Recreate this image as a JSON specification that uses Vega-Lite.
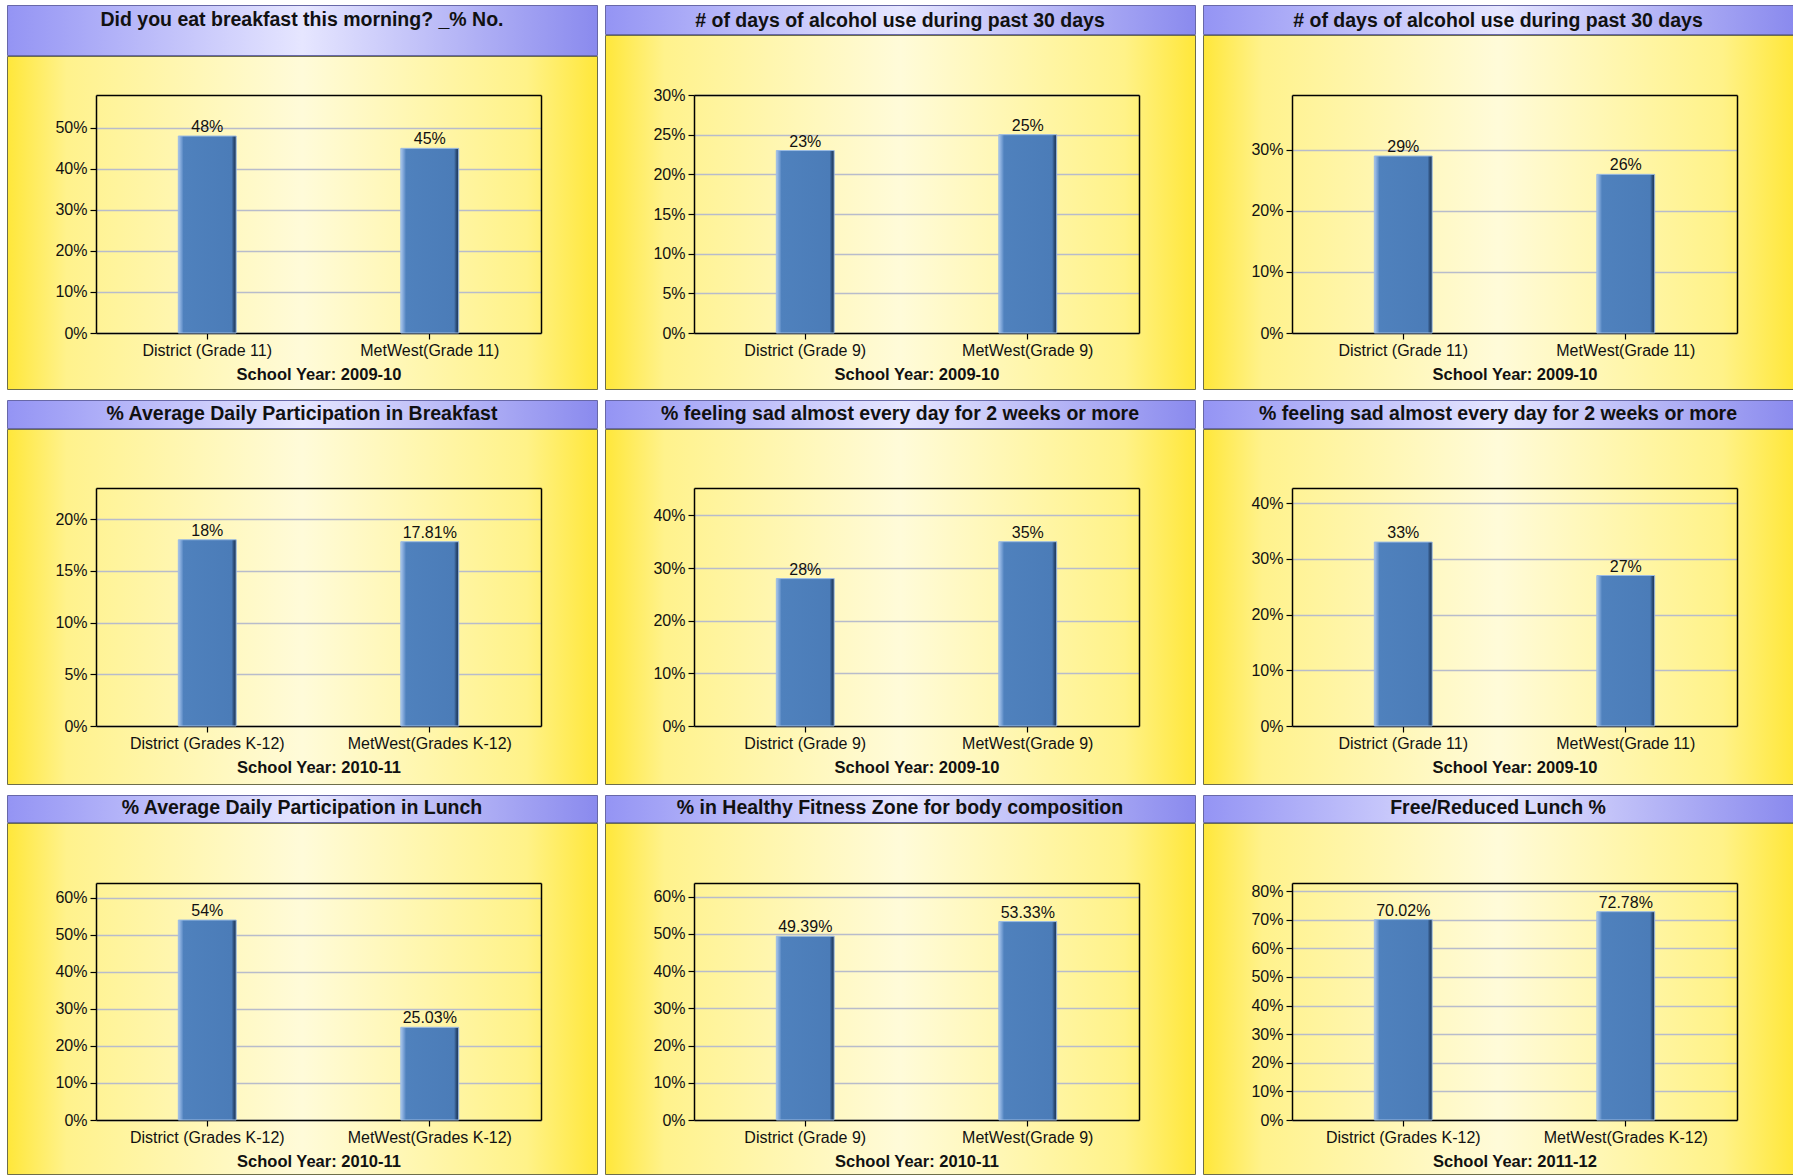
{
  "$schema": "https://vega.github.io/schema/vega-lite/v6.json",
  "background": "white",
  "padding": {"left": 6, "top": 4, "right": 0, "bottom": 0},
  "columns": 3,
  "spacing": {"row": 9, "column": 6},
  "concat": [
    {"spacing": -2, "vconcat": [
      {"width": 590, "height": 50, "view": {"fill": {"gradient": "linear", "x1": 0, "y1": 0, "x2": 1, "y2": 0, "stops": [{"offset": 0, "color": "#9494f4"}, {"offset": 0.5, "color": "#e6e6ff"}, {"offset": 1, "color": "#8a8aee"}]}, "stroke": "#6868a8", "strokeWidth": 1},
       "data": {"values": [{"title": "Did you eat breakfast this morning? _% No."}]},
       "mark": {"type": "text", "font": "Liberation Sans", "fontWeight": "bold", "fontSize": 19.5, "color": "#111", "dy": -10},
       "encoding": {"text": {"field": "title", "type": "nominal"}}},
      {"width": 590, "height": 333, "view": {"fill": {"gradient": "linear", "x1": 0, "y1": 0, "x2": 1, "y2": 0, "stops": [{"offset": 0, "color": "#ffe73a"}, {"offset": 0.1, "color": "#fff28c"}, {"offset": 0.5, "color": "#fffbd9"}, {"offset": 0.88, "color": "#fff288"}, {"offset": 1, "color": "#ffe73a"}]}, "stroke": "#6e6e4a", "strokeWidth": 1},
       "data": {"values": [{"group": "District (Grade 11)", "value": 0.48}, {"group": "MetWest(Grade 11)", "value": 0.45}]},
       "layer": [
        {"mark": {"type": "bar", "fill": {"gradient": "linear", "x1": 0, "y1": 0, "x2": 1, "y2": 0, "stops": [{"offset": 0, "color": "#a9c6ec"}, {"offset": 0.06, "color": "#6f9ad0"}, {"offset": 0.09, "color": "#4f81bd"}, {"offset": 0.92, "color": "#4b7cb8"}, {"offset": 0.96, "color": "#2c4d78"}, {"offset": 1, "color": "#1c3556"}]}, "stroke": "#9bbbe3", "strokeWidth": 1},
         "encoding": {
          "x": {"field": "group", "type": "nominal", "sort": null, "scale": {"type": "band", "range": [89, 534], "paddingInner": 0.74, "paddingOuter": 0.37}, "axis": {"orient": "bottom", "offset": -56, "labelAngle": 0, "title": "School Year: 2009-10"}},
          "y": {"field": "value", "type": "quantitative", "scale": {"domain": [0, 0.58], "range": [277, 39], "nice": false, "zero": true}, "axis": {"orient": "left", "offset": -89, "values": [0, 0.1, 0.2, 0.3, 0.4, 0.5], "format": ".0%", "grid": true, "title": null}}}},
        {"mark": {"type": "text", "baseline": "alphabetic", "dy": -4},
         "encoding": {
          "text": {"field": "value", "format": ".2~%"},
          "x": {"field": "group", "type": "nominal", "sort": null, "scale": {"type": "band", "range": [89, 534], "paddingInner": 0.74, "paddingOuter": 0.37}, "axis": {"orient": "top", "offset": -39, "labels": false, "ticks": false, "grid": false, "title": null}},
          "y": {"field": "value", "type": "quantitative", "scale": {"domain": [0, 0.58], "range": [277, 39], "nice": false, "zero": true}, "axis": {"orient": "right", "offset": -56, "labels": false, "ticks": false, "grid": false, "title": null}}}}
       ],
       "resolve": {"axis": {"x": "independent", "y": "independent"}}}
    ]},
    {"spacing": -2, "vconcat": [
      {"width": 590, "height": 29, "view": {"fill": {"gradient": "linear", "x1": 0, "y1": 0, "x2": 1, "y2": 0, "stops": [{"offset": 0, "color": "#9494f4"}, {"offset": 0.5, "color": "#e6e6ff"}, {"offset": 1, "color": "#8a8aee"}]}, "stroke": "#6868a8", "strokeWidth": 1},
       "data": {"values": [{"title": "# of days of alcohol use during past 30 days"}]},
       "mark": {"type": "text", "font": "Liberation Sans", "fontWeight": "bold", "fontSize": 19.5, "color": "#111", "dy": 1},
       "encoding": {"text": {"field": "title", "type": "nominal"}}},
      {"width": 590, "height": 354, "view": {"fill": {"gradient": "linear", "x1": 0, "y1": 0, "x2": 1, "y2": 0, "stops": [{"offset": 0, "color": "#ffe73a"}, {"offset": 0.1, "color": "#fff28c"}, {"offset": 0.5, "color": "#fffbd9"}, {"offset": 0.88, "color": "#fff288"}, {"offset": 1, "color": "#ffe73a"}]}, "stroke": "#6e6e4a", "strokeWidth": 1},
       "data": {"values": [{"group": "District (Grade 9)", "value": 0.23}, {"group": "MetWest(Grade 9)", "value": 0.25}]},
       "layer": [
        {"mark": {"type": "bar", "fill": {"gradient": "linear", "x1": 0, "y1": 0, "x2": 1, "y2": 0, "stops": [{"offset": 0, "color": "#a9c6ec"}, {"offset": 0.06, "color": "#6f9ad0"}, {"offset": 0.09, "color": "#4f81bd"}, {"offset": 0.92, "color": "#4b7cb8"}, {"offset": 0.96, "color": "#2c4d78"}, {"offset": 1, "color": "#1c3556"}]}, "stroke": "#9bbbe3", "strokeWidth": 1},
         "encoding": {
          "x": {"field": "group", "type": "nominal", "sort": null, "scale": {"type": "band", "range": [89, 534], "paddingInner": 0.74, "paddingOuter": 0.37}, "axis": {"orient": "bottom", "offset": -56, "labelAngle": 0, "title": "School Year: 2009-10"}},
          "y": {"field": "value", "type": "quantitative", "scale": {"domain": [0, 0.30], "range": [298, 60], "nice": false, "zero": true}, "axis": {"orient": "left", "offset": -89, "values": [0, 0.05, 0.1, 0.15, 0.2, 0.25, 0.3], "format": ".0%", "grid": true, "title": null}}}},
        {"mark": {"type": "text", "baseline": "alphabetic", "dy": -4},
         "encoding": {
          "text": {"field": "value", "format": ".2~%"},
          "x": {"field": "group", "type": "nominal", "sort": null, "scale": {"type": "band", "range": [89, 534], "paddingInner": 0.74, "paddingOuter": 0.37}, "axis": {"orient": "top", "offset": -60, "labels": false, "ticks": false, "grid": false, "title": null}},
          "y": {"field": "value", "type": "quantitative", "scale": {"domain": [0, 0.30], "range": [298, 60], "nice": false, "zero": true}, "axis": {"orient": "right", "offset": -56, "labels": false, "ticks": false, "grid": false, "title": null}}}}
       ],
       "resolve": {"axis": {"x": "independent", "y": "independent"}}}
    ]},
    {"spacing": -2, "vconcat": [
      {"width": 590, "height": 29, "view": {"fill": {"gradient": "linear", "x1": 0, "y1": 0, "x2": 1, "y2": 0, "stops": [{"offset": 0, "color": "#9494f4"}, {"offset": 0.5, "color": "#e6e6ff"}, {"offset": 1, "color": "#8a8aee"}]}, "stroke": "#6868a8", "strokeWidth": 1},
       "data": {"values": [{"title": "# of days of alcohol use during past 30 days"}]},
       "mark": {"type": "text", "font": "Liberation Sans", "fontWeight": "bold", "fontSize": 19.5, "color": "#111", "dy": 1},
       "encoding": {"text": {"field": "title", "type": "nominal"}}},
      {"width": 590, "height": 354, "view": {"fill": {"gradient": "linear", "x1": 0, "y1": 0, "x2": 1, "y2": 0, "stops": [{"offset": 0, "color": "#ffe73a"}, {"offset": 0.1, "color": "#fff28c"}, {"offset": 0.5, "color": "#fffbd9"}, {"offset": 0.88, "color": "#fff288"}, {"offset": 1, "color": "#ffe73a"}]}, "stroke": "#6e6e4a", "strokeWidth": 1},
       "data": {"values": [{"group": "District (Grade 11)", "value": 0.29}, {"group": "MetWest(Grade 11)", "value": 0.26}]},
       "layer": [
        {"mark": {"type": "bar", "fill": {"gradient": "linear", "x1": 0, "y1": 0, "x2": 1, "y2": 0, "stops": [{"offset": 0, "color": "#a9c6ec"}, {"offset": 0.06, "color": "#6f9ad0"}, {"offset": 0.09, "color": "#4f81bd"}, {"offset": 0.92, "color": "#4b7cb8"}, {"offset": 0.96, "color": "#2c4d78"}, {"offset": 1, "color": "#1c3556"}]}, "stroke": "#9bbbe3", "strokeWidth": 1},
         "encoding": {
          "x": {"field": "group", "type": "nominal", "sort": null, "scale": {"type": "band", "range": [89, 534], "paddingInner": 0.74, "paddingOuter": 0.37}, "axis": {"orient": "bottom", "offset": -56, "labelAngle": 0, "title": "School Year: 2009-10"}},
          "y": {"field": "value", "type": "quantitative", "scale": {"domain": [0, 0.39], "range": [298, 60], "nice": false, "zero": true}, "axis": {"orient": "left", "offset": -89, "values": [0, 0.1, 0.2, 0.3], "format": ".0%", "grid": true, "title": null}}}},
        {"mark": {"type": "text", "baseline": "alphabetic", "dy": -4},
         "encoding": {
          "text": {"field": "value", "format": ".2~%"},
          "x": {"field": "group", "type": "nominal", "sort": null, "scale": {"type": "band", "range": [89, 534], "paddingInner": 0.74, "paddingOuter": 0.37}, "axis": {"orient": "top", "offset": -60, "labels": false, "ticks": false, "grid": false, "title": null}},
          "y": {"field": "value", "type": "quantitative", "scale": {"domain": [0, 0.39], "range": [298, 60], "nice": false, "zero": true}, "axis": {"orient": "right", "offset": -56, "labels": false, "ticks": false, "grid": false, "title": null}}}}
       ],
       "resolve": {"axis": {"x": "independent", "y": "independent"}}}
    ]},
    {"spacing": -2, "vconcat": [
      {"width": 590, "height": 28, "view": {"fill": {"gradient": "linear", "x1": 0, "y1": 0, "x2": 1, "y2": 0, "stops": [{"offset": 0, "color": "#9494f4"}, {"offset": 0.5, "color": "#e6e6ff"}, {"offset": 1, "color": "#8a8aee"}]}, "stroke": "#6868a8", "strokeWidth": 1},
       "data": {"values": [{"title": "% Average Daily Participation in Breakfast"}]},
       "mark": {"type": "text", "font": "Liberation Sans", "fontWeight": "bold", "fontSize": 19.5, "color": "#111", "dy": 0},
       "encoding": {"text": {"field": "title", "type": "nominal"}}},
      {"width": 590, "height": 355, "view": {"fill": {"gradient": "linear", "x1": 0, "y1": 0, "x2": 1, "y2": 0, "stops": [{"offset": 0, "color": "#ffe73a"}, {"offset": 0.1, "color": "#fff28c"}, {"offset": 0.5, "color": "#fffbd9"}, {"offset": 0.88, "color": "#fff288"}, {"offset": 1, "color": "#ffe73a"}]}, "stroke": "#6e6e4a", "strokeWidth": 1},
       "data": {"values": [{"group": "District (Grades K-12)", "value": 0.18}, {"group": "MetWest(Grades K-12)", "value": 0.1781}]},
       "layer": [
        {"mark": {"type": "bar", "fill": {"gradient": "linear", "x1": 0, "y1": 0, "x2": 1, "y2": 0, "stops": [{"offset": 0, "color": "#a9c6ec"}, {"offset": 0.06, "color": "#6f9ad0"}, {"offset": 0.09, "color": "#4f81bd"}, {"offset": 0.92, "color": "#4b7cb8"}, {"offset": 0.96, "color": "#2c4d78"}, {"offset": 1, "color": "#1c3556"}]}, "stroke": "#9bbbe3", "strokeWidth": 1},
         "encoding": {
          "x": {"field": "group", "type": "nominal", "sort": null, "scale": {"type": "band", "range": [89, 534], "paddingInner": 0.74, "paddingOuter": 0.37}, "axis": {"orient": "bottom", "offset": -58, "labelAngle": 0, "title": "School Year: 2010-11"}},
          "y": {"field": "value", "type": "quantitative", "scale": {"domain": [0, 0.23], "range": [297, 59], "nice": false, "zero": true}, "axis": {"orient": "left", "offset": -89, "values": [0, 0.05, 0.1, 0.15, 0.2], "format": ".0%", "grid": true, "title": null}}}},
        {"mark": {"type": "text", "baseline": "alphabetic", "dy": -4},
         "encoding": {
          "text": {"field": "value", "format": ".2~%"},
          "x": {"field": "group", "type": "nominal", "sort": null, "scale": {"type": "band", "range": [89, 534], "paddingInner": 0.74, "paddingOuter": 0.37}, "axis": {"orient": "top", "offset": -59, "labels": false, "ticks": false, "grid": false, "title": null}},
          "y": {"field": "value", "type": "quantitative", "scale": {"domain": [0, 0.23], "range": [297, 59], "nice": false, "zero": true}, "axis": {"orient": "right", "offset": -56, "labels": false, "ticks": false, "grid": false, "title": null}}}}
       ],
       "resolve": {"axis": {"x": "independent", "y": "independent"}}}
    ]},
    {"spacing": -2, "vconcat": [
      {"width": 590, "height": 28, "view": {"fill": {"gradient": "linear", "x1": 0, "y1": 0, "x2": 1, "y2": 0, "stops": [{"offset": 0, "color": "#9494f4"}, {"offset": 0.5, "color": "#e6e6ff"}, {"offset": 1, "color": "#8a8aee"}]}, "stroke": "#6868a8", "strokeWidth": 1},
       "data": {"values": [{"title": "%  feeling sad almost every day for 2 weeks or more"}]},
       "mark": {"type": "text", "font": "Liberation Sans", "fontWeight": "bold", "fontSize": 19.5, "color": "#111", "dy": 0},
       "encoding": {"text": {"field": "title", "type": "nominal"}}},
      {"width": 590, "height": 355, "view": {"fill": {"gradient": "linear", "x1": 0, "y1": 0, "x2": 1, "y2": 0, "stops": [{"offset": 0, "color": "#ffe73a"}, {"offset": 0.1, "color": "#fff28c"}, {"offset": 0.5, "color": "#fffbd9"}, {"offset": 0.88, "color": "#fff288"}, {"offset": 1, "color": "#ffe73a"}]}, "stroke": "#6e6e4a", "strokeWidth": 1},
       "data": {"values": [{"group": "District (Grade 9)", "value": 0.28}, {"group": "MetWest(Grade 9)", "value": 0.35}]},
       "layer": [
        {"mark": {"type": "bar", "fill": {"gradient": "linear", "x1": 0, "y1": 0, "x2": 1, "y2": 0, "stops": [{"offset": 0, "color": "#a9c6ec"}, {"offset": 0.06, "color": "#6f9ad0"}, {"offset": 0.09, "color": "#4f81bd"}, {"offset": 0.92, "color": "#4b7cb8"}, {"offset": 0.96, "color": "#2c4d78"}, {"offset": 1, "color": "#1c3556"}]}, "stroke": "#9bbbe3", "strokeWidth": 1},
         "encoding": {
          "x": {"field": "group", "type": "nominal", "sort": null, "scale": {"type": "band", "range": [89, 534], "paddingInner": 0.74, "paddingOuter": 0.37}, "axis": {"orient": "bottom", "offset": -58, "labelAngle": 0, "title": "School Year: 2009-10"}},
          "y": {"field": "value", "type": "quantitative", "scale": {"domain": [0, 0.452], "range": [297, 59], "nice": false, "zero": true}, "axis": {"orient": "left", "offset": -89, "values": [0, 0.1, 0.2, 0.3, 0.4], "format": ".0%", "grid": true, "title": null}}}},
        {"mark": {"type": "text", "baseline": "alphabetic", "dy": -4},
         "encoding": {
          "text": {"field": "value", "format": ".2~%"},
          "x": {"field": "group", "type": "nominal", "sort": null, "scale": {"type": "band", "range": [89, 534], "paddingInner": 0.74, "paddingOuter": 0.37}, "axis": {"orient": "top", "offset": -59, "labels": false, "ticks": false, "grid": false, "title": null}},
          "y": {"field": "value", "type": "quantitative", "scale": {"domain": [0, 0.452], "range": [297, 59], "nice": false, "zero": true}, "axis": {"orient": "right", "offset": -56, "labels": false, "ticks": false, "grid": false, "title": null}}}}
       ],
       "resolve": {"axis": {"x": "independent", "y": "independent"}}}
    ]},
    {"spacing": -2, "vconcat": [
      {"width": 590, "height": 28, "view": {"fill": {"gradient": "linear", "x1": 0, "y1": 0, "x2": 1, "y2": 0, "stops": [{"offset": 0, "color": "#9494f4"}, {"offset": 0.5, "color": "#e6e6ff"}, {"offset": 1, "color": "#8a8aee"}]}, "stroke": "#6868a8", "strokeWidth": 1},
       "data": {"values": [{"title": "%  feeling sad almost every day for 2 weeks or more"}]},
       "mark": {"type": "text", "font": "Liberation Sans", "fontWeight": "bold", "fontSize": 19.5, "color": "#111", "dy": 0},
       "encoding": {"text": {"field": "title", "type": "nominal"}}},
      {"width": 590, "height": 355, "view": {"fill": {"gradient": "linear", "x1": 0, "y1": 0, "x2": 1, "y2": 0, "stops": [{"offset": 0, "color": "#ffe73a"}, {"offset": 0.1, "color": "#fff28c"}, {"offset": 0.5, "color": "#fffbd9"}, {"offset": 0.88, "color": "#fff288"}, {"offset": 1, "color": "#ffe73a"}]}, "stroke": "#6e6e4a", "strokeWidth": 1},
       "data": {"values": [{"group": "District (Grade 11)", "value": 0.33}, {"group": "MetWest(Grade 11)", "value": 0.27}]},
       "layer": [
        {"mark": {"type": "bar", "fill": {"gradient": "linear", "x1": 0, "y1": 0, "x2": 1, "y2": 0, "stops": [{"offset": 0, "color": "#a9c6ec"}, {"offset": 0.06, "color": "#6f9ad0"}, {"offset": 0.09, "color": "#4f81bd"}, {"offset": 0.92, "color": "#4b7cb8"}, {"offset": 0.96, "color": "#2c4d78"}, {"offset": 1, "color": "#1c3556"}]}, "stroke": "#9bbbe3", "strokeWidth": 1},
         "encoding": {
          "x": {"field": "group", "type": "nominal", "sort": null, "scale": {"type": "band", "range": [89, 534], "paddingInner": 0.74, "paddingOuter": 0.37}, "axis": {"orient": "bottom", "offset": -58, "labelAngle": 0, "title": "School Year: 2009-10"}},
          "y": {"field": "value", "type": "quantitative", "scale": {"domain": [0, 0.427], "range": [297, 59], "nice": false, "zero": true}, "axis": {"orient": "left", "offset": -89, "values": [0, 0.1, 0.2, 0.3, 0.4], "format": ".0%", "grid": true, "title": null}}}},
        {"mark": {"type": "text", "baseline": "alphabetic", "dy": -4},
         "encoding": {
          "text": {"field": "value", "format": ".2~%"},
          "x": {"field": "group", "type": "nominal", "sort": null, "scale": {"type": "band", "range": [89, 534], "paddingInner": 0.74, "paddingOuter": 0.37}, "axis": {"orient": "top", "offset": -59, "labels": false, "ticks": false, "grid": false, "title": null}},
          "y": {"field": "value", "type": "quantitative", "scale": {"domain": [0, 0.427], "range": [297, 59], "nice": false, "zero": true}, "axis": {"orient": "right", "offset": -56, "labels": false, "ticks": false, "grid": false, "title": null}}}}
       ],
       "resolve": {"axis": {"x": "independent", "y": "independent"}}}
    ]},
    {"spacing": -2, "vconcat": [
      {"width": 590, "height": 27, "view": {"fill": {"gradient": "linear", "x1": 0, "y1": 0, "x2": 1, "y2": 0, "stops": [{"offset": 0, "color": "#9494f4"}, {"offset": 0.5, "color": "#e6e6ff"}, {"offset": 1, "color": "#8a8aee"}]}, "stroke": "#6868a8", "strokeWidth": 1},
       "data": {"values": [{"title": "% Average Daily Participation in Lunch"}]},
       "mark": {"type": "text", "font": "Liberation Sans", "fontWeight": "bold", "fontSize": 19.5, "color": "#111", "dy": -1},
       "encoding": {"text": {"field": "title", "type": "nominal"}}},
      {"width": 590, "height": 351, "view": {"fill": {"gradient": "linear", "x1": 0, "y1": 0, "x2": 1, "y2": 0, "stops": [{"offset": 0, "color": "#ffe73a"}, {"offset": 0.1, "color": "#fff28c"}, {"offset": 0.5, "color": "#fffbd9"}, {"offset": 0.88, "color": "#fff288"}, {"offset": 1, "color": "#ffe73a"}]}, "stroke": "#6e6e4a", "strokeWidth": 1},
       "data": {"values": [{"group": "District (Grades K-12)", "value": 0.54}, {"group": "MetWest(Grades K-12)", "value": 0.2503}]},
       "layer": [
        {"mark": {"type": "bar", "fill": {"gradient": "linear", "x1": 0, "y1": 0, "x2": 1, "y2": 0, "stops": [{"offset": 0, "color": "#a9c6ec"}, {"offset": 0.06, "color": "#6f9ad0"}, {"offset": 0.09, "color": "#4f81bd"}, {"offset": 0.92, "color": "#4b7cb8"}, {"offset": 0.96, "color": "#2c4d78"}, {"offset": 1, "color": "#1c3556"}]}, "stroke": "#9bbbe3", "strokeWidth": 1},
         "encoding": {
          "x": {"field": "group", "type": "nominal", "sort": null, "scale": {"type": "band", "range": [89, 534], "paddingInner": 0.74, "paddingOuter": 0.37}, "axis": {"orient": "bottom", "offset": -54, "labelAngle": 0, "title": "School Year: 2010-11"}},
          "y": {"field": "value", "type": "quantitative", "scale": {"domain": [0, 0.64], "range": [297, 60], "nice": false, "zero": true}, "axis": {"orient": "left", "offset": -89, "values": [0, 0.1, 0.2, 0.3, 0.4, 0.5, 0.6], "format": ".0%", "grid": true, "title": null}}}},
        {"mark": {"type": "text", "baseline": "alphabetic", "dy": -4},
         "encoding": {
          "text": {"field": "value", "format": ".2~%"},
          "x": {"field": "group", "type": "nominal", "sort": null, "scale": {"type": "band", "range": [89, 534], "paddingInner": 0.74, "paddingOuter": 0.37}, "axis": {"orient": "top", "offset": -60, "labels": false, "ticks": false, "grid": false, "title": null}},
          "y": {"field": "value", "type": "quantitative", "scale": {"domain": [0, 0.64], "range": [297, 60], "nice": false, "zero": true}, "axis": {"orient": "right", "offset": -56, "labels": false, "ticks": false, "grid": false, "title": null}}}}
       ],
       "resolve": {"axis": {"x": "independent", "y": "independent"}}}
    ]},
    {"spacing": -2, "vconcat": [
      {"width": 590, "height": 27, "view": {"fill": {"gradient": "linear", "x1": 0, "y1": 0, "x2": 1, "y2": 0, "stops": [{"offset": 0, "color": "#9494f4"}, {"offset": 0.5, "color": "#e6e6ff"}, {"offset": 1, "color": "#8a8aee"}]}, "stroke": "#6868a8", "strokeWidth": 1},
       "data": {"values": [{"title": "% in Healthy Fitness Zone for body composition"}]},
       "mark": {"type": "text", "font": "Liberation Sans", "fontWeight": "bold", "fontSize": 19.5, "color": "#111", "dy": -1},
       "encoding": {"text": {"field": "title", "type": "nominal"}}},
      {"width": 590, "height": 351, "view": {"fill": {"gradient": "linear", "x1": 0, "y1": 0, "x2": 1, "y2": 0, "stops": [{"offset": 0, "color": "#ffe73a"}, {"offset": 0.1, "color": "#fff28c"}, {"offset": 0.5, "color": "#fffbd9"}, {"offset": 0.88, "color": "#fff288"}, {"offset": 1, "color": "#ffe73a"}]}, "stroke": "#6e6e4a", "strokeWidth": 1},
       "data": {"values": [{"group": "District (Grade 9)", "value": 0.4939}, {"group": "MetWest(Grade 9)", "value": 0.5333}]},
       "layer": [
        {"mark": {"type": "bar", "fill": {"gradient": "linear", "x1": 0, "y1": 0, "x2": 1, "y2": 0, "stops": [{"offset": 0, "color": "#a9c6ec"}, {"offset": 0.06, "color": "#6f9ad0"}, {"offset": 0.09, "color": "#4f81bd"}, {"offset": 0.92, "color": "#4b7cb8"}, {"offset": 0.96, "color": "#2c4d78"}, {"offset": 1, "color": "#1c3556"}]}, "stroke": "#9bbbe3", "strokeWidth": 1},
         "encoding": {
          "x": {"field": "group", "type": "nominal", "sort": null, "scale": {"type": "band", "range": [89, 534], "paddingInner": 0.74, "paddingOuter": 0.37}, "axis": {"orient": "bottom", "offset": -54, "labelAngle": 0, "title": "School Year: 2010-11"}},
          "y": {"field": "value", "type": "quantitative", "scale": {"domain": [0, 0.637], "range": [297, 60], "nice": false, "zero": true}, "axis": {"orient": "left", "offset": -89, "values": [0, 0.1, 0.2, 0.3, 0.4, 0.5, 0.6], "format": ".0%", "grid": true, "title": null}}}},
        {"mark": {"type": "text", "baseline": "alphabetic", "dy": -4},
         "encoding": {
          "text": {"field": "value", "format": ".2~%"},
          "x": {"field": "group", "type": "nominal", "sort": null, "scale": {"type": "band", "range": [89, 534], "paddingInner": 0.74, "paddingOuter": 0.37}, "axis": {"orient": "top", "offset": -60, "labels": false, "ticks": false, "grid": false, "title": null}},
          "y": {"field": "value", "type": "quantitative", "scale": {"domain": [0, 0.637], "range": [297, 60], "nice": false, "zero": true}, "axis": {"orient": "right", "offset": -56, "labels": false, "ticks": false, "grid": false, "title": null}}}}
       ],
       "resolve": {"axis": {"x": "independent", "y": "independent"}}}
    ]},
    {"spacing": -2, "vconcat": [
      {"width": 590, "height": 27, "view": {"fill": {"gradient": "linear", "x1": 0, "y1": 0, "x2": 1, "y2": 0, "stops": [{"offset": 0, "color": "#9494f4"}, {"offset": 0.5, "color": "#e6e6ff"}, {"offset": 1, "color": "#8a8aee"}]}, "stroke": "#6868a8", "strokeWidth": 1},
       "data": {"values": [{"title": "Free/Reduced Lunch %"}]},
       "mark": {"type": "text", "font": "Liberation Sans", "fontWeight": "bold", "fontSize": 19.5, "color": "#111", "dy": -1},
       "encoding": {"text": {"field": "title", "type": "nominal"}}},
      {"width": 590, "height": 351, "view": {"fill": {"gradient": "linear", "x1": 0, "y1": 0, "x2": 1, "y2": 0, "stops": [{"offset": 0, "color": "#ffe73a"}, {"offset": 0.1, "color": "#fff28c"}, {"offset": 0.5, "color": "#fffbd9"}, {"offset": 0.88, "color": "#fff288"}, {"offset": 1, "color": "#ffe73a"}]}, "stroke": "#6e6e4a", "strokeWidth": 1},
       "data": {"values": [{"group": "District (Grades K-12)", "value": 0.7002}, {"group": "MetWest(Grades K-12)", "value": 0.7278}]},
       "layer": [
        {"mark": {"type": "bar", "fill": {"gradient": "linear", "x1": 0, "y1": 0, "x2": 1, "y2": 0, "stops": [{"offset": 0, "color": "#a9c6ec"}, {"offset": 0.06, "color": "#6f9ad0"}, {"offset": 0.09, "color": "#4f81bd"}, {"offset": 0.92, "color": "#4b7cb8"}, {"offset": 0.96, "color": "#2c4d78"}, {"offset": 1, "color": "#1c3556"}]}, "stroke": "#9bbbe3", "strokeWidth": 1},
         "encoding": {
          "x": {"field": "group", "type": "nominal", "sort": null, "scale": {"type": "band", "range": [89, 534], "paddingInner": 0.74, "paddingOuter": 0.37}, "axis": {"orient": "bottom", "offset": -54, "labelAngle": 0, "title": "School Year: 2011-12"}},
          "y": {"field": "value", "type": "quantitative", "scale": {"domain": [0, 0.828], "range": [297, 60], "nice": false, "zero": true}, "axis": {"orient": "left", "offset": -89, "values": [0, 0.1, 0.2, 0.3, 0.4, 0.5, 0.6, 0.7, 0.8], "format": ".0%", "grid": true, "title": null}}}},
        {"mark": {"type": "text", "baseline": "alphabetic", "dy": -4},
         "encoding": {
          "text": {"field": "value", "format": ".2~%"},
          "x": {"field": "group", "type": "nominal", "sort": null, "scale": {"type": "band", "range": [89, 534], "paddingInner": 0.74, "paddingOuter": 0.37}, "axis": {"orient": "top", "offset": -60, "labels": false, "ticks": false, "grid": false, "title": null}},
          "y": {"field": "value", "type": "quantitative", "scale": {"domain": [0, 0.828], "range": [297, 60], "nice": false, "zero": true}, "axis": {"orient": "right", "offset": -56, "labels": false, "ticks": false, "grid": false, "title": null}}}}
       ],
       "resolve": {"axis": {"x": "independent", "y": "independent"}}}
    ]}
  ],
  "config": {
    "font": "Liberation Sans",
    "axis": {"labelFont": "Liberation Sans", "labelFontSize": 16, "labelColor": "#111", "domainColor": "#000", "domainWidth": 1.5, "tickColor": "#000", "tickWidth": 1.2, "tickSize": 6, "labelPadding": 3, "titleFont": "Liberation Sans", "titleFontSize": 16.5, "titleFontWeight": "bold", "titleColor": "#111", "titlePadding": 8, "gridColor": "#b8bccb", "gridWidth": 1.5, "gridOpacity": 1},
    "text": {"font": "Liberation Sans", "fontSize": 16, "color": "#111"}
  }
}
